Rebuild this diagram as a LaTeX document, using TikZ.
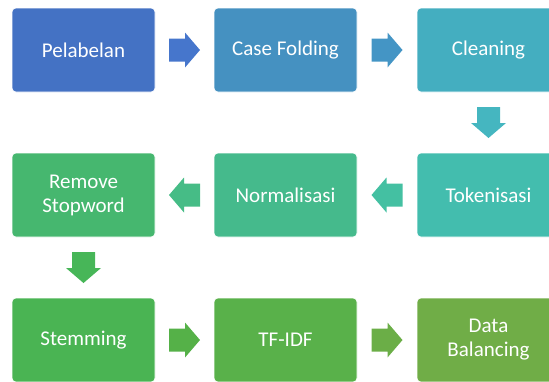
\documentclass[tikz,border=0pt]{standalone}
\usepackage{fontspec}
\setmainfont{Carlito}
\usetikzlibrary{calc}
\definecolor{c1}{HTML}{4472C4}
\definecolor{c2}{HTML}{4591C1}
\definecolor{c3}{HTML}{44AEC0}
\definecolor{c4}{HTML}{43BDAE}
\definecolor{c5}{HTML}{45BA8C}
\definecolor{c6}{HTML}{46B76F}
\definecolor{c7}{HTML}{4AB453}
\definecolor{c8}{HTML}{59B14A}
\definecolor{c9}{HTML}{70AD47}
\definecolor{a1}{HTML}{4676CC}
\definecolor{a2}{HTML}{4495C5}
\definecolor{a3}{HTML}{45B6C0}
\definecolor{a4}{HTML}{44C0A2}
\definecolor{a5}{HTML}{46BC86}
\definecolor{a6}{HTML}{47B658}
\definecolor{a7}{HTML}{55B148}
\definecolor{a8}{HTML}{6BAE47}
\begin{document}
\begin{tikzpicture}[x=1pt,y=-1pt,
  box/.style={rectangle, rounded corners=4pt, minimum width=143pt, minimum height=84pt,
    draw=white, line width=0.6pt, text=white, font=\fontsize{21}{24}\selectfont,
    align=center, inner sep=0pt},
  pics/blockarrow/.style={code={\fill[#1] (-15.5,-11.5) -- (0.5,-11.5) -- (0.5,-17.5) -- (15.5,0) -- (0.5,17.5) -- (0.5,11.5) -- (-15.5,11.5) -- cycle;}}]
\useasboundingbox (0,0) rectangle (549,381);
\node[box, fill=c1] (n1) at (83.5,50) {Pelabelan};
\node[box, fill=c2] (n2) at (285.5,50) {Case Folding};
\node[box, fill=c3] (n3) at (488.5,50) {Cleaning};
\node[box, fill=c4] (n4) at (488.5,195) {Tokenisasi};
\node[box, fill=c5] (n5) at (285.5,195) {Normalisasi};
\node[box, fill=c6] (n6) at (83.5,195) {Remove\\Stopword};
\node[box, fill=c7] (n7) at (83.5,340) {Stemming};
\node[box, fill=c8] (n8) at (285.5,340) {TF-IDF};
\node[box, fill=c9] (n9) at (488.5,340) {Data\\Balancing};
\path ($(n1.east)!0.5!(n2.west)$) pic {blockarrow=a1};
\path ($(n2.east)!0.5!(n3.west)$) pic {blockarrow=a2};
\path ($(n3.south)!0.5!(n4.north)$) pic[rotate=-90] {blockarrow=a3};
\path ($(n4.west)!0.5!(n5.east)$) pic[rotate=180] {blockarrow=a4};
\path ($(n5.west)!0.5!(n6.east)$) pic[rotate=180] {blockarrow=a5};
\path ($(n6.south)!0.5!(n7.north)$) pic[rotate=-90] {blockarrow=a6};
\path ($(n7.east)!0.5!(n8.west)$) pic {blockarrow=a7};
\path ($(n8.east)!0.5!(n9.west)$) pic {blockarrow=a8};
\end{tikzpicture}
\end{document}
